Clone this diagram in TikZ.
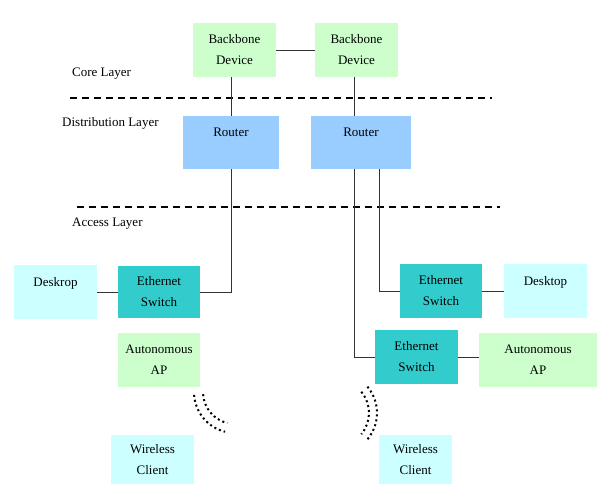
\documentclass[tikz,border=0pt]{standalone}
\usepackage{fontspec}
\setmainfont{Liberation Serif}
\usepackage{xcolor}
\usepackage{tikz}
\definecolor{coregreen}{RGB}{204,255,204}
\definecolor{routerblue}{RGB}{153,204,255}
\definecolor{switchteal}{RGB}{51,204,204}
\definecolor{clientcyan}{RGB}{204,255,255}

\begin{document}
\begin{tikzpicture}
                \tikzset{x={(1pt, 0pt)}, y={(0pt, -1pt)}}
                \tikzset{box/.style={inner sep=0pt, minimum width=83pt, minimum height=54pt, align=center, font=\fontsize{13}{21}\selectfont},
                         oneline/.style={text depth=20pt},
                         layer/.style={anchor=west, inner sep=0pt, font=\fontsize{13}{15}\selectfont},
                         sep/.style={line width=2pt, dash pattern=on 7pt off 5pt},
                         link/.style={line width=0.8pt, black!80},
                         radio/.style={line width=2pt, dash pattern=on 2pt off 3pt}}
                \useasboundingbox (0, 0) rectangle (597, 502);
                % layers
                \node[layer] (core) at (72, 74) {Core Layer};
                \node[layer] (dist) at (62, 123) {Distribution Layer};
                \node[layer] (acc) at (72, 224) {Access Layer};
                \draw[sep] (70, 98) -- (492, 98);
                \draw[sep] (77, 207) -- (500, 207);
                % devices
                \node[box, fill=coregreen] (bbL) at (234.5, 50) {Backbone\\Device};
                \node[box, fill=coregreen] (bbR) at (356.5, 50) {Backbone\\Device};
                \node[box, oneline, fill=routerblue, minimum width=96pt, minimum height=53pt] (rtrL) at (231, 142.5) {Router};
                \node[box, oneline, fill=routerblue, minimum width=100pt, minimum height=53pt] (rtrR) at (361, 142.5) {Router};
                \node[box, oneline, fill=clientcyan] (deskL) at (55.5, 292) {Deskrop};
                \node[box, fill=switchteal, minimum width=82pt, minimum height=52pt] (swL) at (159, 292) {Ethernet\\Switch};
                \node[box, fill=coregreen, minimum width=82pt] (apL) at (159, 360) {Autonomous\\AP};
                \node[box, fill=clientcyan, minimum height=49pt] (wcL) at (152.5, 459.5) {Wireless\\Client};
                \node[box, fill=switchteal, minimum width=82pt] (swR1) at (441, 291) {Ethernet\\Switch};
                \node[box, oneline, fill=clientcyan] (deskR) at (545.5, 291) {Desktop};
                \node[box, fill=switchteal] (swR2) at (416.5, 357) {Ethernet\\Switch};
                \node[box, fill=coregreen, minimum width=118pt] (apR) at (538, 360) {Autonomous\\AP};
                \node[box, fill=clientcyan, minimum width=73pt, minimum height=49pt] (wcR) at (415.5, 459.5) {Wireless\\Client};
                % links
                \draw[link] (bbL) -- (bbR);
                \draw[link] (rtrL.north |- bbL.south) -- (rtrL.north);
                \draw[link] ([xshift=-2.5pt]bbR.south) -- ([xshift=-2.5pt]bbR.south |- rtrR.north);
                \draw[link] (rtrL.south) |- (swL.east);
                \draw[link] (deskL) -- (swL);
                \draw[link] ([xshift=18pt]rtrR.south) |- (swR1.west);
                \draw[link] (swR1) -- (deskR);
                \draw[link] ([xshift=-7pt]rtrR.south) |- (swR2.west);
                \draw[link] (swR2.east) -- (swR2.east -| apR.west);
                % wireless
                \draw[radio] (235, 392) ++(176:41) arc[start angle=176, end angle=104, radius=41];
                \draw[radio] (235, 392) ++(176:32) arc[start angle=176, end angle=104, radius=32];
                \draw[radio] (336, 413) ++(-40:33) arc[start angle=-40, end angle=40, radius=33];
                \draw[radio] (336, 413) ++(-40:41) arc[start angle=-40, end angle=40, radius=41];
\end{tikzpicture}
\end{document}
